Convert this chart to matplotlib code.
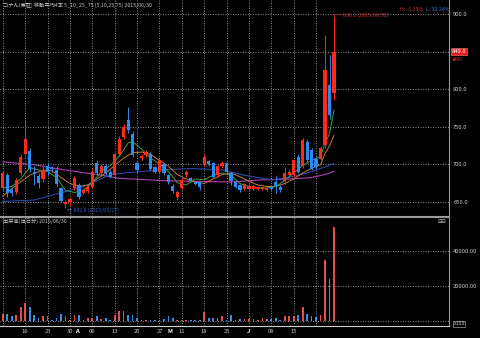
import matplotlib
matplotlib.use("Agg")
import matplotlib.pyplot as plt
import matplotlib.transforms as mtransforms

plt.rcParams['font.family'] = ['Noto Sans CJK JP', 'DejaVu Sans']

# daily candles (index 0 .. 74)
opens = [668, 685, 665, 663, 688, 714, 718, 690, 684, 680, 697, 695, 692, 668, 647,
         649, 668, 672, 662, 664, 670, 701, 688, 697, 690, 685, 714, 736, 759, 740,
         701, 708, 712, 714, 696, 690, 700, 685, 671, 656, 668, 685, 681, 676, 676,
         699, 704, 701, 685, 697, 701, 688, 676, 672, 667, 667, 667, 667, 667, 665,
         670, 676, 670, 677, 685, 685, 710, 697, 730, 719, 707, 707, 725, 805, 795]
highs = [691, 688, 668, 682, 713, 760, 722, 697, 688, 697, 702, 698, 697, 670, 652,
         656, 684, 675, 668, 672, 693, 705, 700, 700, 692, 716, 737, 754, 776, 744,
         704, 713, 719, 716, 698, 707, 702, 687, 673, 665, 682, 692, 683, 677, 678,
         714, 705, 703, 699, 704, 703, 690, 678, 674, 675, 673, 672, 671, 670, 669,
         672, 684, 672, 696, 692, 707, 714, 735, 733, 722, 710, 724, 872, 845, 896]
lows = [664, 656, 658, 660, 685, 712, 690, 672, 668, 676, 686, 690, 670, 650, 642,
        646, 665, 654, 660, 662, 668, 686, 686, 686, 681, 683, 712, 734, 742, 710,
        690, 706, 710, 692, 688, 688, 686, 674, 662, 652, 666, 683, 676, 672, 665,
        697, 698, 681, 683, 695, 688, 672, 668, 663, 665, 666, 666, 666, 666, 664,
        665, 662, 663, 674, 683, 683, 688, 695, 702, 692, 694, 705, 722, 760, 785]
closes = [688, 661, 662, 679, 710, 734, 693, 687, 675, 692, 689, 693, 673, 651, 650,
          654, 681, 656, 666, 670, 690, 688, 697, 688, 683, 714, 734, 750, 745, 712,
          692, 711, 716, 694, 690, 705, 688, 676, 664, 663, 679, 690, 678, 674, 670,
          710, 700, 683, 697, 701, 690, 677, 670, 665, 673, 671, 671, 670, 669, 668,
          667, 671, 666, 688, 690, 705, 690, 732, 705, 694, 696, 721, 825, 765, 849]
# volume in units of 100 shares
volumes = [4000, 4000, 2700, 3400, 7800, 10100, 8200, 3600, 1500, 2900, 2700, 400, 1500, 4000, 2700,
           400, 3200, 3400, 800, 1500, 1500, 2900, 1100, 1500, 800, 3200, 5500, 5500, 3600, 3600,
           1500, 800, 800, 800, 800, 800, 1100, 2700, 1500, 800, 300, 300, 300, 300, 800,
           5300, 1500, 1500, 1500, 2700, 800, 3200, 800, 1100, 1100, 1100, 1100, 800, 1500, 1100,
           1100, 1900, 800, 2700, 3000, 2700, 3400, 7800, 3800, 3000, 2300, 3400, 34900, 24000, 53500]

# moving averages read at sample days
ma5_x = [0, 2, 4, 6, 8, 10, 12, 14, 16, 18, 20, 22, 24, 26, 28, 29, 31, 33, 35, 37, 39,
         41, 43, 45, 47, 49, 51, 53, 55, 57, 59, 61, 63, 65, 67, 69, 71, 72, 73, 74]
ma5_y = [668, 670, 680, 695, 692, 690, 682, 665, 662, 665, 675, 690, 698, 710, 728, 730, 720,
         708, 700, 690, 675, 672, 680, 679, 685, 688, 685, 674, 670, 668, 668, 670, 678, 688,
         698, 705, 710, 728, 740, 772]
ma10_x = [0, 3, 6, 9, 11, 13, 15, 17, 19, 21, 23, 25, 27, 29, 31, 33, 35, 37, 39, 41, 43,
          45, 47, 49, 51, 53, 55, 57, 59, 61, 63, 65, 67, 69, 71, 72, 73, 74]
ma10_y = [657, 672, 685, 692, 691, 682, 674, 670, 672, 680, 688, 698, 708, 715, 716, 713,
          705, 697, 686, 680, 676, 674, 680, 686, 688, 683, 677, 672, 670, 670, 674, 680, 688,
          694, 699, 714, 724, 738]
ma25_x = [0, 7, 15, 18, 22, 24, 29, 35, 42, 49, 54, 60, 63, 68, 72, 74]
ma25_y = [650, 652, 665, 670, 680, 686, 689, 692, 694, 692, 685, 679, 681, 688, 696, 701]
ma75_x = [0, 7, 14, 22, 26, 35, 46, 51, 57, 64, 69, 72, 74]
ma75_y = [703, 699, 692, 685, 681, 678, 676.5, 676, 678.5, 680, 682, 686, 690]

grid_days = list(range(0, 75, 5))
tick_pos = [5, 10, 15, 16.6, 20, 25, 30, 35, 37.4, 40, 45, 50, 55, 60, 65]
tick_lab = ['16', '23', '30', 'A', '06', '13', '20', '27', 'M', '11', '18', '25', 'J', '08', '15']

UP = '#ff2a1a'
DOWN = '#2a8cf0'
BG = 'black'
FG = '#c8c8c8'
EDGE = '#9a9a9a'

fig = plt.figure(figsize=(4.8, 3.38), dpi=100, facecolor=BG)
ax1 = fig.add_axes([0.0, 0.361, 0.9354, 0.639], facecolor=BG)
ax2 = fig.add_axes([0.0, 0.0355, 0.9354, 0.3225], facecolor=BG)

n = len(closes)
idx = list(range(n))
cols = [UP if c >= o else DOWN for o, c in zip(opens, closes)]
body_lo = [min(o, c) for o, c in zip(opens, closes)]
body_h = [max(abs(c - o), 0.8) for o, c in zip(opens, closes)]

for ax in (ax1, ax2):
    ax.set_xlim(-0.63, 99.7)
    for d in grid_days:
        ax.axvline(d, color='#bdbdbd', lw=0.6, ls=(0, (1, 2)), zorder=0)
    for s in ('left', 'top', 'bottom', 'right'):
        ax.spines[s].set_visible(False)
    ax.spines['right'].set_visible(True)
    ax.spines['right'].set_color(EDGE)
    ax.yaxis.tick_right()
    ax.tick_params(axis='y', length=0, pad=3, labelsize=4.2, labelcolor=FG)

# price panel
ax1.set_ylim(630.7, 918.7)
for lv in [650, 700, 750, 800, 850, 900]:
    ax1.axhline(lv, color='#bdbdbd', lw=0.6, ls=(0, (1, 2)), zorder=0)
ax1.set_yticks([650, 700, 750, 800, 850, 900])
ax1.set_yticklabels(['650.0', '700.0', '750.0', '800.0', '', '900.0'])
ax1.set_xticks([])
ax1.spines['bottom'].set_visible(True)
ax1.spines['bottom'].set_color(EDGE)

ax1.plot(ma75_x, ma75_y, color='#b23cb8', lw=0.8, zorder=2)
ax1.plot(ma25_x, ma25_y, color='#2b4aa8', lw=0.8, zorder=2)
ax1.plot(ma10_x, ma10_y, color='#c8783a', lw=0.7, zorder=2)
ax1.plot(ma5_x, ma5_y, color='#3aa04a', lw=0.7, zorder=2)

ax1.vlines(idx, lows, highs, colors=cols, lw=0.7, zorder=3)
ax1.bar(idx, body_h, bottom=body_lo, width=0.72, color=cols, zorder=4)

# high / low markers
ax1.plot([74, 74, 75.6], [896, 899.5, 899.5], color='#b02020', lw=0.6, zorder=5)
ax1.text(76.0, 898.5, '896.0 (2015/06/30)', color='#c83030', fontsize=3.8, va='center')
ax1.text(14.4, 638.5, '← 642.0 (2015/03/27)', color='#3a5ac8', fontsize=3.8, va='center')

ax1.text(0.006, 0.99, 'コナん(東証) 移動平均4本 5_10_25_75 (5,10,25,75) 2015/06/30',
         transform=ax1.transAxes, color=FG, fontsize=3.8, va='top', ha='left')
ax1.text(0.89, 0.955, 'H: -5.25%', transform=ax1.transAxes, color='#d03030',
         fontsize=3.8, va='center', ha='left')
ax1.text(0.948, 0.955, 'L: 32.24%', transform=ax1.transAxes, color='#3a78e0',
         fontsize=3.8, va='center', ha='left')

tr1 = mtransforms.blended_transform_factory(ax1.transAxes, ax1.transData)
ax1.text(1.006, 850, '849.0', transform=tr1, color='white', fontsize=4.2,
         va='center', ha='left',
         bbox=dict(boxstyle='square,pad=0.15', fc='#e01818', ec='#ff8080', lw=0.4))
ax1.text(1.006, 840, '◂860', transform=tr1, color='#e03030', fontsize=3.6,
         va='center', ha='left')

# volume panel
ax2.set_ylim(-2860, 59430)
for lv in [0, 20000, 40000]:
    ax2.axhline(lv, color='#bdbdbd', lw=0.6, ls=(0, (1, 2)), zorder=0)
vcols = ['#e05050' if c >= o else '#3a8ee6' for o, c in zip(opens, closes)]
ax2.bar(idx, volumes, width=0.38, color=vcols, zorder=3)
ax2.set_yticks([20000, 40000])
ax2.set_yticklabels(['20000.00', '40000.00'])
ax2.spines['top'].set_visible(True)
ax2.spines['top'].set_color(EDGE)
ax2.spines['bottom'].set_visible(True)
ax2.spines['bottom'].set_color('#d0d0d0')
ax2.set_xticks(tick_pos)
ax2.set_xticklabels(tick_lab)
ax2.tick_params(axis='x', length=0, pad=2.5, labelsize=4.2, labelcolor=FG)
for lab in ax2.get_xticklabels():
    if lab.get_text() in ('A', 'M', 'J'):
        lab.set_color('white')
        lab.set_fontweight('bold')

ax2.text(0.006, 0.985, '出来高(当日分) 2015/06/30', transform=ax2.transAxes,
         color=FG, fontsize=3.8, va='top', ha='left')
ax2.text(1.01, 0.02, 'x100', transform=ax2.transAxes, color=FG, fontsize=3.8,
         va='center', ha='left',
         bbox=dict(boxstyle='square,pad=0.12', fc=BG, ec=FG, lw=0.4))
ax2.text(0.995, 0.985, '⊟⊟', transform=ax2.transAxes, color=FG, fontsize=3.8,
         va='top', ha='right')

fig.savefig('out.png', dpi=100, facecolor=BG)
